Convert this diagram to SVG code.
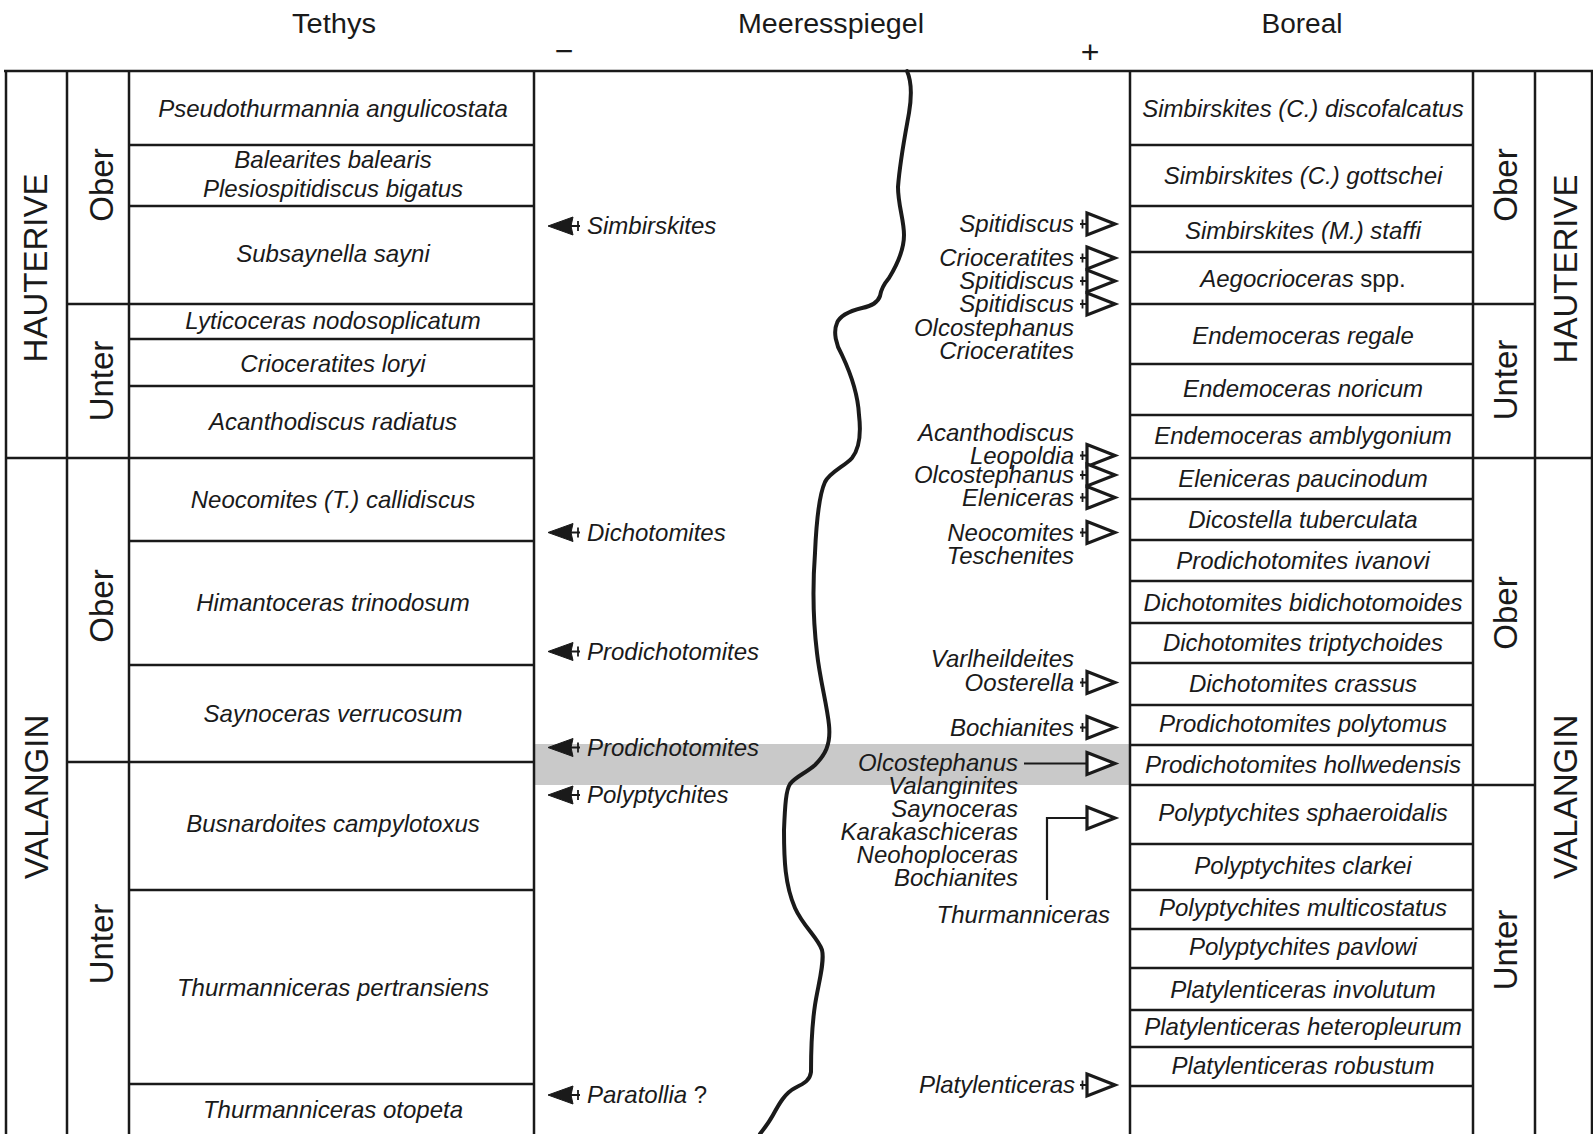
<svg xmlns="http://www.w3.org/2000/svg" width="1593" height="1134" viewBox="0 0 1593 1134">
<defs>
<style>
.ln{stroke:#1a1a1a;stroke-width:2.5;fill:none}
.t{font-family:"Liberation Sans",Arial,sans-serif;font-style:italic;font-size:24px;fill:#1a1a1a}
.c{text-anchor:middle}
.e{text-anchor:end}
.s{text-anchor:start}
.h{font-family:"Liberation Sans",Arial,sans-serif;font-size:27px;fill:#1a1a1a;text-anchor:middle}
.pm{font-family:"Liberation Sans",Arial,sans-serif;font-size:32px;fill:#1a1a1a;text-anchor:middle}
.v{font-family:"Liberation Sans",Arial,sans-serif;font-size:33px;fill:#1a1a1a;text-anchor:middle}
.up{font-style:normal}
</style>
<g id="blackArrow">
<path d="M0,0 L25,-9 L23,0 L25,9 Z" fill="#1a1a1a" stroke="#1a1a1a" stroke-width="1" stroke-linejoin="round"/>
<line x1="20" y1="0" x2="32" y2="0" stroke="#1a1a1a" stroke-width="2"/>
<line x1="30" y1="-5" x2="30" y2="5" stroke="#1a1a1a" stroke-width="1.8"/>
</g>
<g id="openArrow">
<path d="M0,-11 L28,0 L0,11 Z" fill="#fff" stroke="#1a1a1a" stroke-width="3.2" stroke-linejoin="miter"/>
<line x1="-7" y1="0" x2="0" y2="0" stroke="#1a1a1a" stroke-width="2"/>
<line x1="-4.5" y1="-4.5" x2="-4.5" y2="4.5" stroke="#1a1a1a" stroke-width="1.8"/>
</g>
</defs>
<rect width="1593" height="1134" fill="#fff"/>

<g id="shade"><rect x="535" y="744" width="594" height="41" fill="#c9c9c9"/></g>

<g id="grid">
<line class="ln" x1="4" y1="71" x2="1593" y2="71"/>
<line class="ln" x1="6" y1="71" x2="6" y2="1134"/>
<line class="ln" x1="67" y1="71" x2="67" y2="1134"/>
<line class="ln" x1="129" y1="71" x2="129" y2="1134"/>
<line class="ln" x1="534" y1="71" x2="534" y2="1134"/>
<line class="ln" x1="1130" y1="71" x2="1130" y2="1134"/>
<line class="ln" x1="1473" y1="71" x2="1473" y2="1134"/>
<line class="ln" x1="1535" y1="71" x2="1535" y2="1134"/>
<line class="ln" x1="1592" y1="71" x2="1592" y2="1134"/>
<path class="ln" d="M129,145H534M129,206H534M129,339H534M129,386H534M129,541H534M129,665H534M129,890H534M129,1084H534M67,304H534M67,762H534M6,458H534"/>
<path class="ln" d="M1130,145H1473M1130,206H1473M1130,252H1473M1130,364H1473M1130,415H1473M1130,499H1473M1130,540H1473M1130,581H1473M1130,623H1473M1130,663H1473M1130,705H1473M1130,745H1473M1130,844H1473M1130,890H1473M1130,929H1473M1130,968H1473M1130,1010H1473M1130,1047H1473M1130,1086H1473M1130,304H1535M1130,785H1535M1130,458H1592"/>
</g>

<g id="headers">
<text class="h" x="334" y="33" textLength="84" lengthAdjust="spacingAndGlyphs">Tethys</text>
<text class="h" x="831" y="33" textLength="186" lengthAdjust="spacingAndGlyphs">Meeresspiegel</text>
<text class="h" x="1302" y="33" textLength="81" lengthAdjust="spacingAndGlyphs">Boreal</text>
<text class="pm" x="564" y="62">−</text>
<text class="pm" x="1090" y="63">+</text>
</g>

<g id="stages">
<text class="v" transform="translate(47,268) rotate(-90)">HAUTERIVE</text>
<text class="v" transform="translate(48,797) rotate(-90)">VALANGIN</text>
<text class="v" transform="translate(113,185) rotate(-90)">Ober</text>
<text class="v" transform="translate(113,381) rotate(-90)">Unter</text>
<text class="v" transform="translate(113,606) rotate(-90)">Ober</text>
<text class="v" transform="translate(113,944) rotate(-90)">Unter</text>
<text class="v" transform="translate(1517,185) rotate(-90)">Ober</text>
<text class="v" transform="translate(1517,380) rotate(-90)">Unter</text>
<text class="v" transform="translate(1517,613) rotate(-90)">Ober</text>
<text class="v" transform="translate(1517,950) rotate(-90)">Unter</text>
<text class="v" transform="translate(1577,269) rotate(-90)">HAUTERIVE</text>
<text class="v" transform="translate(1577,797) rotate(-90)">VALANGIN</text>
</g>

<g id="tethys">
<g id="t1"><text class="t c" x="333" y="117">Pseudothurmannia angulicostata</text></g>
<g id="t2"><text class="t c" x="333" y="168">Balearites balearis</text><text class="t c" x="333" y="197">Plesiospitidiscus bigatus</text></g>
<g id="t3"><text class="t c" x="333" y="262">Subsaynella sayni</text></g>
<g id="t4"><text class="t c" x="333" y="329">Lyticoceras nodosoplicatum</text></g>
<g id="t5"><text class="t c" x="333" y="372">Crioceratites loryi</text></g>
<g id="t6"><text class="t c" x="333" y="430">Acanthodiscus radiatus</text></g>
<g id="t7"><text class="t c" x="333" y="508">Neocomites (T.) callidiscus</text></g>
<g id="t8"><text class="t c" x="333" y="611">Himantoceras trinodosum</text></g>
<g id="t9"><text class="t c" x="333" y="722">Saynoceras verrucosum</text></g>
<g id="t10"><text class="t c" x="333" y="832">Busnardoites campylotoxus</text></g>
<g id="t11"><text class="t c" x="333" y="996">Thurmanniceras pertransiens</text></g>
<g id="t12"><text class="t c" x="333" y="1118">Thurmanniceras otopeta</text></g>
</g>

<g id="boreal">
<g id="b1"><text class="t c" x="1303" y="117">Simbirskites (C.) discofalcatus</text></g>
<g id="b2"><text class="t c" x="1303" y="184">Simbirskites (C.) gottschei</text></g>
<g id="b3"><text class="t c" x="1303" y="239">Simbirskites (M.) staffi</text></g>
<g id="b4"><text class="t c" x="1303" y="287">Aegocrioceras<tspan class="up"> spp.</tspan></text></g>
<g id="b5"><text class="t c" x="1303" y="344">Endemoceras regale</text></g>
<g id="b6"><text class="t c" x="1303" y="397">Endemoceras noricum</text></g>
<g id="b7"><text class="t c" x="1303" y="444">Endemoceras amblygonium</text></g>
<g id="b8"><text class="t c" x="1303" y="487">Eleniceras paucinodum</text></g>
<g id="b9"><text class="t c" x="1303" y="528">Dicostella tuberculata</text></g>
<g id="b10"><text class="t c" x="1303" y="569">Prodichotomites ivanovi</text></g>
<g id="b11"><text class="t c" x="1303" y="611">Dichotomites bidichotomoides</text></g>
<g id="b12"><text class="t c" x="1303" y="651">Dichotomites triptychoides</text></g>
<g id="b13"><text class="t c" x="1303" y="692">Dichotomites crassus</text></g>
<g id="b14"><text class="t c" x="1303" y="732">Prodichotomites polytomus</text></g>
<g id="b15"><text class="t c" x="1303" y="773">Prodichotomites hollwedensis</text></g>
<g id="b16"><text class="t c" x="1303" y="821">Polyptychites sphaeroidalis</text></g>
<g id="b17"><text class="t c" x="1303" y="874">Polyptychites clarkei</text></g>
<g id="b18"><text class="t c" x="1303" y="916">Polyptychites multicostatus</text></g>
<g id="b19"><text class="t c" x="1303" y="955">Polyptychites pavlowi</text></g>
<g id="b20"><text class="t c" x="1303" y="998">Platylenticeras involutum</text></g>
<g id="b21"><text class="t c" x="1303" y="1035">Platylenticeras heteropleurum</text></g>
<g id="b22"><text class="t c" x="1303" y="1074">Platylenticeras robustum</text></g>
</g>

<g id="sealevel">
<path d="M907,71 C911,80 912,95 909,113 C906,130 900,160 898,187 C898,205 904,220 904,235 C904,250 897,265 889,278 C884,284 881,289 880,296 C878,302 872,306 862,308 C850,311 840,315 837,323 C833,332 836,345 842,355 C850,372 858,395 859,415 C861,432 860,448 852,458 C845,466 830,472 825,482 C819,495 816,530 815,553 C813,580 813,620 817,653 C820,680 827,705 829,725 C831,745 825,755 815,765 C806,773 795,777 790,784 C786,790 785,805 784,830 C784,860 785,885 795,908 C803,926 818,938 822,950 C825,962 818,985 815,1005 C812,1025 811,1050 811,1072 C810,1080 805,1083 795,1088 C785,1093 779,1104 773,1115 C768,1124 763,1130 760,1134" fill="none" stroke="#1a1a1a" stroke-width="4" stroke-linecap="round"/>
</g>

<g id="connectors">
<use href="#blackArrow" transform="translate(548,226)"/>
<use href="#blackArrow" transform="translate(548,532.5)"/>
<use href="#blackArrow" transform="translate(548,651.5)"/>
<use href="#blackArrow" transform="translate(548,747.5)"/>
<use href="#blackArrow" transform="translate(548,795)"/>
<use href="#blackArrow" transform="translate(548,1095)"/>
<use href="#openArrow" transform="translate(1087,224)"/>
<use href="#openArrow" transform="translate(1087,258)"/>
<use href="#openArrow" transform="translate(1087,281)"/>
<use href="#openArrow" transform="translate(1087,304)"/>
<use href="#openArrow" transform="translate(1087,455.5)"/>
<use href="#openArrow" transform="translate(1087,475)"/>
<use href="#openArrow" transform="translate(1087,497.5)"/>
<use href="#openArrow" transform="translate(1087,532.5)"/>
<use href="#openArrow" transform="translate(1087,682.5)"/>
<use href="#openArrow" transform="translate(1087,727.5)"/>
<use href="#openArrow" transform="translate(1087,1085)"/>
<line x1="1024" y1="763.5" x2="1087" y2="763.5" stroke="#1a1a1a" stroke-width="2.2"/>
<path d="M1087,752.5 L1115,763.5 L1087,774.5 Z" fill="#fff" stroke="#1a1a1a" stroke-width="3.2"/>
<path d="M1047,900 V818 H1087" fill="none" stroke="#1a1a1a" stroke-width="2.2"/>
<path d="M1087,807 L1115,818 L1087,829 Z" fill="#fff" stroke="#1a1a1a" stroke-width="3.2"/>
</g>

<g id="leftLabels">
<text class="t s" x="587" y="234">Simbirskites</text>
<text class="t s" x="587" y="541">Dichotomites</text>
<text class="t s" x="587" y="660">Prodichotomites</text>
<text class="t s" x="587" y="756">Prodichotomites</text>
<text class="t s" x="587" y="803">Polyptychites</text>
<text class="t s" x="587" y="1103">Paratollia<tspan class="up"> ?</tspan></text>
</g>

<g id="rightLabels">
<text class="t e" x="1074" y="232">Spitidiscus</text>
<text class="t e" x="1074" y="266">Crioceratites</text>
<text class="t e" x="1074" y="289">Spitidiscus</text>
<text class="t e" x="1074" y="312">Spitidiscus</text>
<text class="t e" x="1074" y="336">Olcostephanus</text>
<text class="t e" x="1074" y="359">Crioceratites</text>
<text class="t e" x="1074" y="441">Acanthodiscus</text>
<text class="t e" x="1074" y="464">Leopoldia</text>
<text class="t e" x="1074" y="483">Olcostephanus</text>
<text class="t e" x="1074" y="506">Eleniceras</text>
<text class="t e" x="1074" y="541">Neocomites</text>
<text class="t e" x="1074" y="564">Teschenites</text>
<text class="t e" x="1074" y="667">Varlheildeites</text>
<text class="t e" x="1074" y="691">Oosterella</text>
<text class="t e" x="1074" y="736">Bochianites</text>
<text class="t e" x="1018" y="771">Olcostephanus</text>
<text class="t e" x="1018" y="794">Valanginites</text>
<text class="t e" x="1018" y="817">Saynoceras</text>
<text class="t e" x="1018" y="840">Karakaschiceras</text>
<text class="t e" x="1018" y="863">Neohoploceras</text>
<text class="t e" x="1018" y="886">Bochianites</text>
<text class="t e" x="1110" y="923">Thurmanniceras</text>
<text class="t e" x="1075" y="1093">Platylenticeras</text>
</g>
</svg>
